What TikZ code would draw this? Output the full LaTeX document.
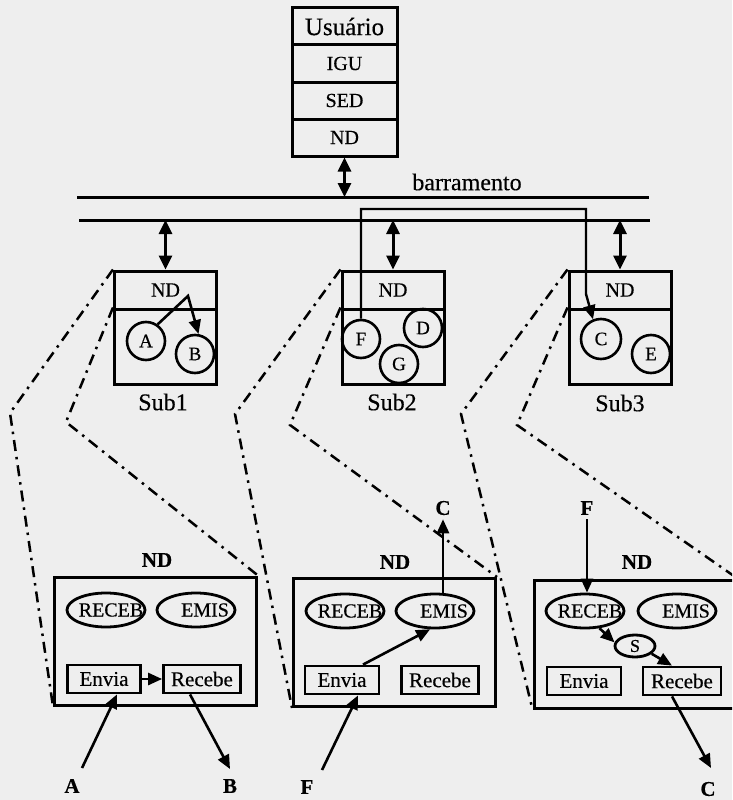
\documentclass[tikz,border=0pt]{standalone}
\usepackage{fontspec}
\setmainfont{Liberation Serif}[FakeBold=0.4]
\usetikzlibrary{arrows.meta,shapes.geometric,calc}
\definecolor{bgcol}{RGB}{238,238,238}
\begin{document}
\begin{tikzpicture}[x=1pt,y=-1pt,
  tbox/.style={draw,line width=3pt,inner sep=0pt,minimum width=105pt,minimum height=37pt,font=\fontsize{20}{22}\selectfont},
  subnd/.style={draw,line width=3pt,inner sep=0pt,minimum width=102pt,minimum height=38pt,font=\fontsize{20}{22}\selectfont},
  subp/.style={draw,line width=3pt,inner sep=0pt,minimum width=102pt,minimum height=75pt},
  sublbl/.style={font=\fontsize{24}{26}\selectfont,inner sep=1pt},
  circ/.style={circle,draw,line width=2.6pt,minimum size=38pt,inner sep=0pt,font=\fontsize{19}{21}\selectfont},
  ndbig/.style={draw,line width=3pt,inner sep=0pt,minimum width=202pt,minimum height=128pt},
  ell/.style={ellipse,draw,line width=2.8pt,minimum width=78pt,minimum height=34pt,inner sep=0pt},
  etxt/.style={font=\fontsize{20}{22}\selectfont,inner sep=0pt},
  rbox/.style={draw,line width=2.8pt,minimum height=28pt,inner sep=0pt,font=\fontsize{21}{23}\selectfont},
  lbl/.style={font=\bfseries\fontsize{21}{23}\selectfont,inner sep=1pt},
  arr/.style={line width=2.6pt,-{Triangle[length=14pt,width=12pt]}},
  dbl/.style={line width=3pt,{Triangle[length=14pt,width=13pt]}-{Triangle[length=14pt,width=13pt]}},
  busline/.style={line width=3pt},
  dd/.style={line width=2.5pt,dash pattern=on 11pt off 6pt on 2.5pt off 6pt}
]
\useasboundingbox (0,0) rectangle (732,800);
\clip (0,0) rectangle (732,800);
\fill[bgcol] (0,0) rectangle (732,800);

% top stack
\node[tbox,font=\fontsize{25}{27}\selectfont] (usr) at (344.5,26.5) {Usuário};
\node[tbox] (igu) at (344.5,63.5) {IGU};
\node[tbox] (sed) at (344.5,100.5) {SED};
\node[tbox] (ndt) at (344.5,137.5) {ND};

% bus
\coordinate (bt1) at (77,197);
\coordinate (bt2) at (649,197);
\coordinate (bb1) at (79,220);
\coordinate (bb2) at (650,220);
\draw[busline] (bt1) -- (bt2);
\draw[busline] (bb1) -- (bb2);
\node[sublbl] (bar) at (467,182) {barramento};
\draw[dbl] (ndt.south) -- (ndt.south |- bt1);

% sub boxes
\node[subnd] (s1nd) at (165.5,290) {ND};
\node[subp] (s1p) at (165.5,346.5) {};
\node[sublbl] (s1l) at (163,402) {Sub1};
\node[subnd] (s2nd) at (393,290) {ND};
\node[subp] (s2p) at (393,346.5) {};
\node[sublbl] (s2l) at (392,402) {Sub2};
\node[subnd] (s3nd) at (620,290) {ND};
\node[subp] (s3p) at (620,346.5) {};
\node[sublbl] (s3l) at (620,403) {Sub3};

\draw[dbl] (bb1 -| s1nd.north) -- (s1nd.north);
\draw[dbl] (bb1 -| s2nd.north) -- (s2nd.north);
\draw[dbl] (bb1 -| s3nd.north) -- (s3nd.north);

% processes
\node[circ] (cA) at (146,341) {A};
\node[circ] (cB) at (195,354) {B};
\node[circ] (cF) at (361,339) {F};
\node[circ] (cD) at (423,328) {D};
\node[circ] (cG) at (399,364) {G};
\node[circ,minimum size=40pt] (cC) at (601,339) {C};
\node[circ] (cE) at (651,354) {E};

\coordinate (apx) at (188,296);
\draw[arr] (cA.55) -- (apx) -- (cB.80);

\coordinate (lp1) at (361,209);
\coordinate (lp2) at (586,209);
\coordinate (lp3) at (586,294);
\draw[arr,line width=2.4pt] (cF.north) -- (lp1) -- (lp2) -- (lp3) -- (cC.112);

% bottom boxes
\node[ndbig] (nd1) at (155.5,641) {};
\node[ndbig] (nd2) at (394.5,642.5) {};
\node[ndbig] (nd3) at (635,644) {};
\node[lbl] (nd1l) at (157,560) {ND};
\node[lbl] (nd2l) at (395,562) {ND};
\node[lbl] (nd3l) at (637,562) {ND};

% dash-dot projection lines
\coordinate (o1) at (10,413);
\coordinate (i1) at (66,422);
\coordinate (o2) at (235,414);
\coordinate (i2) at (290,425);
\coordinate (o3) at (461,414);
\coordinate (i3) at (517,425);
\draw[dd] (s1nd.north west) -- (o1) -- (nd1.south west);
\draw[dd] (s1p.north west) -- (i1) -- (nd1.north east);
\draw[dd] (s2nd.north west) -- (o2) -- (nd2.south west);
\draw[dd] (s2p.north west) -- (i2) -- (nd2.north east);
\draw[dd] (s3nd.north west) -- (o3) -- (nd3.south west);
\draw[dd] (s3p.north west) -- (i3) -- (nd3.north east);

% ellipses
\node[ell] (r1) at (106,610) {};
\node[etxt] (r1t) at ([xshift=5pt]r1.center) {RECEB};
\node[ell] (e1) at (196,610) {};
\node[etxt] (e1t) at ([xshift=9pt]e1.center) {EMIS};
\node[ell] (r2) at (345,611) {};
\node[etxt] (r2t) at ([xshift=5pt]r2.center) {RECEB};
\node[ell] (e2) at (435,611) {};
\node[etxt] (e2t) at ([xshift=9pt]e2.center) {EMIS};
\node[ell] (r3) at (585,611) {};
\node[etxt] (r3t) at ([xshift=5pt]r3.center) {RECEB};
\node[ell] (e3) at (677,611) {};
\node[etxt] (e3t) at ([xshift=9pt]e3.center) {EMIS};
\node[ell,minimum width=40pt,minimum height=22pt,font=\fontsize{18}{20}\selectfont] (s3) at (635,646) {S};

% Envia / Recebe
\node[rbox,minimum width=73pt] (en1) at (104,679) {Envia};
\node[rbox,minimum width=77pt] (rc1) at (202,679) {Recebe};
\node[rbox,minimum width=74pt] (en2) at (342,680) {Envia};
\node[rbox,minimum width=77pt] (rc2) at (440,680) {Recebe};
\node[rbox,minimum width=74pt] (en3) at (584,681) {Envia};
\node[rbox,minimum width=78pt] (rc3) at (682,681) {Recebe};

% left arrows
\draw[arr] (en1.east) -- (rc1.west);
\node[lbl] (la) at (72,786) {A};
\coordinate (a1) at (82,768);
\draw[arr] (a1) -- ([xshift=13pt]en1.south);
\node[lbl] (lb) at (230,786) {B};
\coordinate (b1) at (230,769);
\draw[arr] ([xshift=-12pt]rc1.south) -- (b1);

% middle arrows
\node[lbl] (lf2) at (307,787) {F};
\coordinate (f2) at (322,770);
\draw[arr] (f2) -- ([xshift=16pt]en2.south);
\draw[arr] ([xshift=21pt]en2.north) -- (e2.255);
\node[lbl] (lc2) at (443,508) {C};
\draw[arr,shorten >=3pt] (e2.north -| lc2.south) -- (lc2.south);

% right arrows
\node[lbl] (lf3) at (587,508) {F};
\draw[arr] ([yshift=-3pt]lf3.south) -- (lf3.south |- r3.north);
\draw[arr] (r3.-50) -- (s3.170);
\draw[arr] (s3.-25) -- ([xshift=-10pt]rc3.north);
\node[lbl] (lc3) at (708,789) {C};
\coordinate (c3) at (711,768);
\draw[arr] ([xshift=-10pt]rc3.south) -- (c3);
\end{tikzpicture}
\end{document}
